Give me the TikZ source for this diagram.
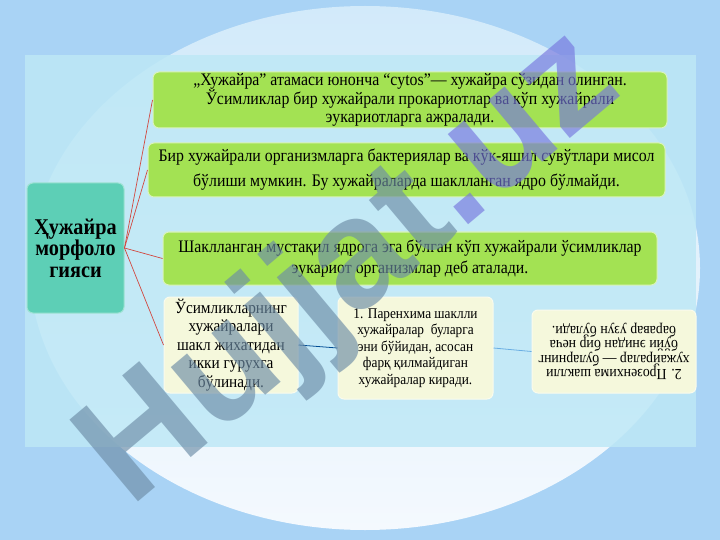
\documentclass[tikz,border=0pt]{standalone}
\usepackage{fontspec}
\setmainfont[FakeStretch=0.9]{Liberation Serif}
\newfontfamily\marksans{Liberation Sans}
\usetikzlibrary{positioning}

\definecolor{skyout}{HTML}{A9D3F5}
\definecolor{skytop}{HTML}{D2EAFA}
\definecolor{skylow}{HTML}{F4F9FE}
\definecolor{panelblue}{HTML}{BEE8F6}
\definecolor{limebox}{HTML}{A3E253}
\definecolor{tealbox}{HTML}{5DCFB6}
\definecolor{creambox}{HTML}{F5F8DC}
\definecolor{linkred}{HTML}{D2473F}
\definecolor{wmgray}{HTML}{6C8CA6}
\definecolor{wmblue}{HTML}{7676DE}

\begin{document}
\begin{tikzpicture}[x=1pt,y=-1pt,
    box/.style={rounded corners=6pt,draw=white!60!limebox,line width=1pt,
      align=center,inner sep=0pt,text=black},
    greenbox/.style={box,fill=limebox,font=\fontsize{17.6}{#1}\selectfont},
    creamnode/.style={box,fill=creambox,draw=white!50!creambox},
    link/.style={linkred,line width=0.7pt}]

% background and panel
\useasboundingbox (0,0) rectangle (720,540);
\fill[skyout] (0,0) rectangle (720,540);
\shade[top color=skytop,bottom color=skylow] (365,268) ellipse [x radius=335,y radius=262];
\fill[panelblue,opacity=0.85] (25,55) rectangle (696,447);

% boxes
\node[box,fill=tealbox,draw=white!40!tealbox,minimum width=97,minimum height=130,
  font=\bfseries\fontsize{22.5}{21.5}\selectfont] (root) at (75.5,248)
  {Ҳужайра\\морфоло\\гияси};
\node[greenbox=18,minimum width=514,minimum height=56] (g1) at (410,100)
  {„Хужайра” атамаси юнонча “cytos”— хужайра сўзидан олинган.\\
   Ўсимликлар бир хужайрали прокариотлар ва кўп хужайрали\\
   эукариотларга ажралади.};
\node[greenbox=25,minimum width=517,minimum height=54] (g2) at (406.5,170)
  {Бир хужайрали организмларга бактериялар ва кўк-яшил сувўтлари мисол\\
   бўлиши мумкин. Бу хужайраларда шаклланган ядро бўлмайди.};
\node[greenbox=21,minimum width=494,minimum height=53] (g3) at (410,258.5)
  {Шаклланган мустақил ядрога эга бўлган кўп хужайрали ўсимликлар\\
   эукариот организмлар деб аталади.};
\node[creamnode,minimum width=134,minimum height=96,
  font=\fontsize{17}{18.5}\selectfont] (c1) at (231,345)
  {Ўсимликларнинг\\хужайралари\\шакл жихатидан\\икки гурухга\\бўлинади.};
\node[creamnode,minimum width=155,minimum height=102,
  font=\fontsize{14.8}{16.5}\selectfont] (c2) at (415.5,348)
  {1. Паренхима шаклли\\хужайралар \ буларга\\эни бўйидан, асосан\\фарқ қилмайдиган\\хужайралар киради.};
\node[creamnode,minimum width=164,minimum height=83,rotate=180,
  font=\fontsize{15.4}{14.5}\selectfont] (c3) at (614,351.5)
  {2. Прозенхима шаклли\\хужайралар — буларнинг\\бўйи энидан бир неча\\баравар узун бўлади.};

% connectors
\draw[link] (root.east) -- (g1.west);
\draw[link] (root.east) -- (g2.west);
\draw[link] (root.east) -- (g3.west);
\draw[link] (root.east) -- (c1.west);
\draw[color=black!60!blue!70!cyan,line width=0.8pt] (c1.east) -- (c2.west);
\draw[color=cyan!70!blue!60,line width=0.8pt] (c2.east) -- (c3.east);

% watermark
\node[opacity=0.65,rotate=40,font=\marksans\bfseries\fontsize{155}{155}\selectfont]
  (mark) at (352,270) {\textcolor{wmgray}{Hujjat}\textcolor{wmblue}{.uz}};

\end{tikzpicture}
\end{document}
